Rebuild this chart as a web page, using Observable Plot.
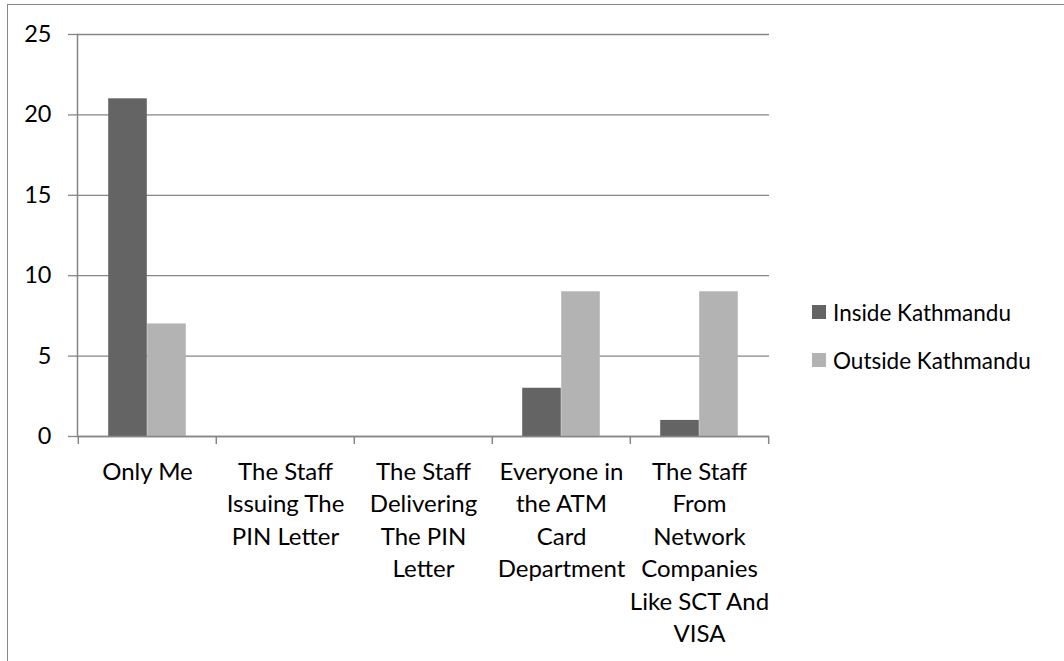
<!DOCTYPE html>
<html>
<head>
<meta charset="utf-8">
<script src="https://cdn.jsdelivr.net/npm/d3@7"></script>
<script src="https://cdn.jsdelivr.net/npm/@observablehq/plot@0.6"></script>
<style>
  body { margin: 0; background: #fff; }
  #chart { position: relative; width: 1064px; height: 661px; font-family: Lato, "Open Sans", sans-serif; color: #000; }
  #frame { position: absolute; left: 7px; top: 4px; right: 0; bottom: 0; border-top: 1.5px solid #878787; border-left: 1.5px solid #878787; pointer-events: none; }
  #legend { position: absolute; left: 812px; top: 300px; font-size: 22.5px; }
  .item { display: flex; align-items: center; height: 24px; margin-bottom: 24px; white-space: nowrap; }
  .swatch { width: 14px; height: 14px; margin-right: 7px; flex: none; }
</style>
</head>
<body>
<div id="chart"><div id="frame"></div><div id="legend"></div></div>
<script>
// Who knows the PIN: responses by respondent location
const categories = [
  "Only Me",
  "The Staff Issuing The PIN Letter",
  "The Staff Delivering The PIN Letter",
  "Everyone in the ATM Card Department",
  "The Staff From Network Companies Like SCT And VISA"
];
const categoryLabels = [
  "Only Me",
  "The Staff\nIssuing The\nPIN Letter",
  "The Staff\nDelivering\nThe PIN\nLetter",
  "Everyone in\nthe ATM\nCard\nDepartment",
  "The Staff\nFrom\nNetwork\nCompanies\nLike SCT And\nVISA"
];
const insideKathmandu = [21, 0, 0, 3, 1];
const outsideKathmandu = [7, 0, 0, 9, 9];
const seriesNames = ["Inside Kathmandu", "Outside Kathmandu"];
const seriesColors = ["#646464", "#b3b3b3"];
const yTicks = [0, 5, 10, 15, 20, 25];

const rows = categories.map((c, i) => ({
  category: c,
  label: categoryLabels[i],
  inside: insideKathmandu[i],
  outside: outsideKathmandu[i]
}));

const width = 1064, height = 661;
const marginLeft = 77, marginRight = 295, marginTop = 34, marginBottom = 225;
const band = (width - marginLeft - marginRight) / categories.length;
const barWidth = 39;
const lineColor = "#868686";

const chart = Plot.plot({
  width, height, marginLeft, marginRight, marginTop, marginBottom,
  style: { fontFamily: "Lato, 'Open Sans', sans-serif", background: "transparent", overflow: "visible" },
  x: { domain: categories, padding: 0, axis: null },
  y: { domain: [0, 25], axis: null },
  marks: [
    Plot.gridY(yTicks, { stroke: lineColor, strokeOpacity: 1, strokeWidth: 1.3 }),
    Plot.axisY(yTicks, {
      tickSize: 9, tickPadding: 17, stroke: lineColor, strokeWidth: 1.3,
      fontSize: 23.5, fill: "#000", label: null
    }),
    Plot.barY(rows, {
      x: "category", y: "inside", fill: seriesColors[0],
      insetLeft: band / 2 - barWidth, insetRight: band / 2
    }),
    Plot.barY(rows, {
      x: "category", y: "outside", fill: seriesColors[1],
      insetLeft: band / 2, insetRight: band / 2 - barWidth
    }),
    Plot.frame({ anchor: "left", stroke: lineColor, strokeWidth: 1.5 }),
    Plot.ruleY([0], { stroke: lineColor, strokeWidth: 1.5 }),
    // category boundary ticks below the baseline
    Plot.axisX({ tickSize: 8, dx: -band / 2, text: null, stroke: lineColor, strokeWidth: 1.5, label: null }),
    Plot.axisX([categories[categories.length - 1]], { tickSize: 8, dx: band / 2, text: null, stroke: lineColor, strokeWidth: 1.5, label: null }),
    Plot.text(rows, {
      x: "category", text: "label", frameAnchor: "bottom", lineAnchor: "top",
      dy: 20, fontSize: 24, lineHeight: 1.355, fill: "#000"
    })
  ]
});
document.getElementById("chart").prepend(chart);
chart.style.position = "absolute";
chart.style.left = "0";
chart.style.top = "0";

const legend = document.getElementById("legend");
seriesNames.forEach((name, i) => {
  const item = document.createElement("div");
  item.className = "item";
  const sw = document.createElement("span");
  sw.className = "swatch";
  sw.style.background = seriesColors[i];
  const tx = document.createElement("span");
  tx.textContent = name;
  item.append(sw, tx);
  legend.append(item);
});
</script>
</body>
</html>
